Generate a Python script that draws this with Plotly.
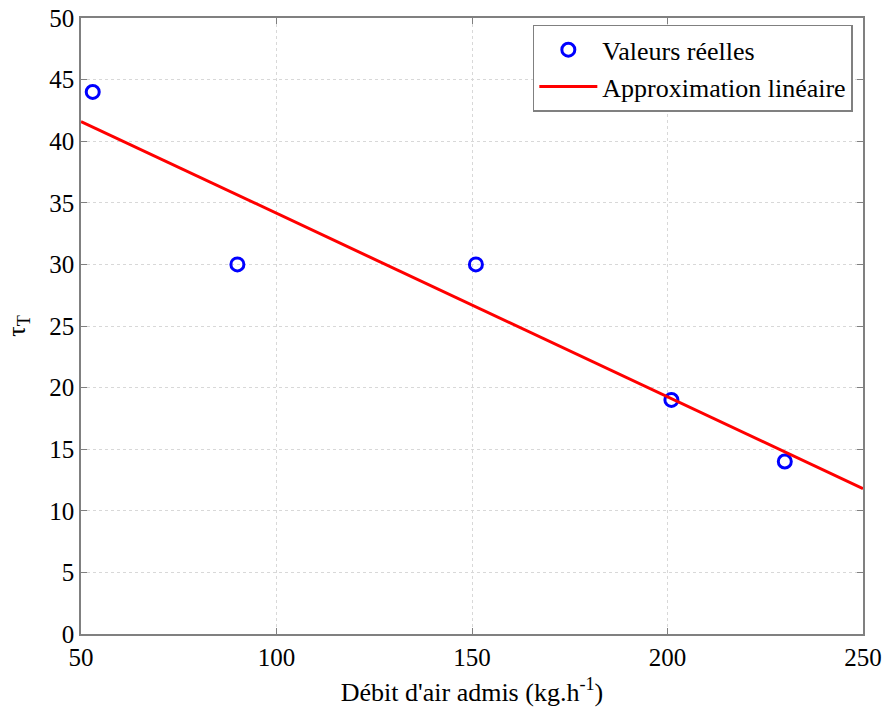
import plotly.graph_objects as go

# Data
debit = [53, 90, 151, 201, 230]
tau_reel = [44, 30, 30, 19, 14]
fit_x = [50, 250]
fit_y = [41.6, 11.8]
x_ticks = [50, 100, 150, 200, 250]
y_ticks = [0, 5, 10, 15, 20, 25, 30, 35, 40, 45, 50]

FONT = "Liberation Serif"

fig = go.Figure()
fig.add_trace(go.Scatter(
    x=debit, y=tau_reel, mode="markers", name="Valeurs réelles",
    marker=dict(symbol="circle-open", size=13, color="#0000ff",
                line=dict(width=3, color="#0000ff")),
))
fig.add_trace(go.Scatter(
    x=fit_x, y=fit_y, mode="lines", name="Approximation linéaire",
    line=dict(color="#ff0000", width=3),
))

axis_common = dict(
    showline=True, linecolor="#808080", linewidth=1.5, mirror="ticks",
    ticks="inside", ticklen=6, tickcolor="#808080",
    showgrid=True, gridcolor="#d8d8d8", griddash="dot", gridwidth=1,
    zeroline=False, automargin=False, ticklabeloverflow="allow",
    tickfont=dict(family=FONT, size=25, color="black"),
)

fig.update_layout(
    template="none",
    width=885, height=707,
    margin=dict(l=81, r=22, t=18, b=73),
    paper_bgcolor="white", plot_bgcolor="white",
    font=dict(family=FONT, color="black"),
    xaxis=dict(range=[50, 250], tickvals=x_ticks, **axis_common,
               title=dict(text="Débit d'air admis (kg.h<sup>-1</sup>)",
                          font=dict(family=FONT, size=26))),
    yaxis=dict(range=[0, 50], tickvals=y_ticks, **axis_common),
    legend=dict(x=0.987, y=0.989, xanchor="right", yanchor="top",
                bgcolor="white", bordercolor="#808080", borderwidth=1.5,
                font=dict(family=FONT, size=26), tracegroupgap=0,
                itemwidth=58),
    showlegend=True,
)

# y-axis title (placed as rotated annotation to match reference position)
fig.add_annotation(
    text="τ<sub>T</sub>", xref="paper", yref="paper",
    x=-0.081, y=0.5, xanchor="center", yanchor="middle",
    textangle=-90, showarrow=False,
    font=dict(family=FONT, size=26, color="black"),
)

fig.write_html("out.html", config={"displayModeBar": False},
               post_script="document.body.style.margin='0';")
